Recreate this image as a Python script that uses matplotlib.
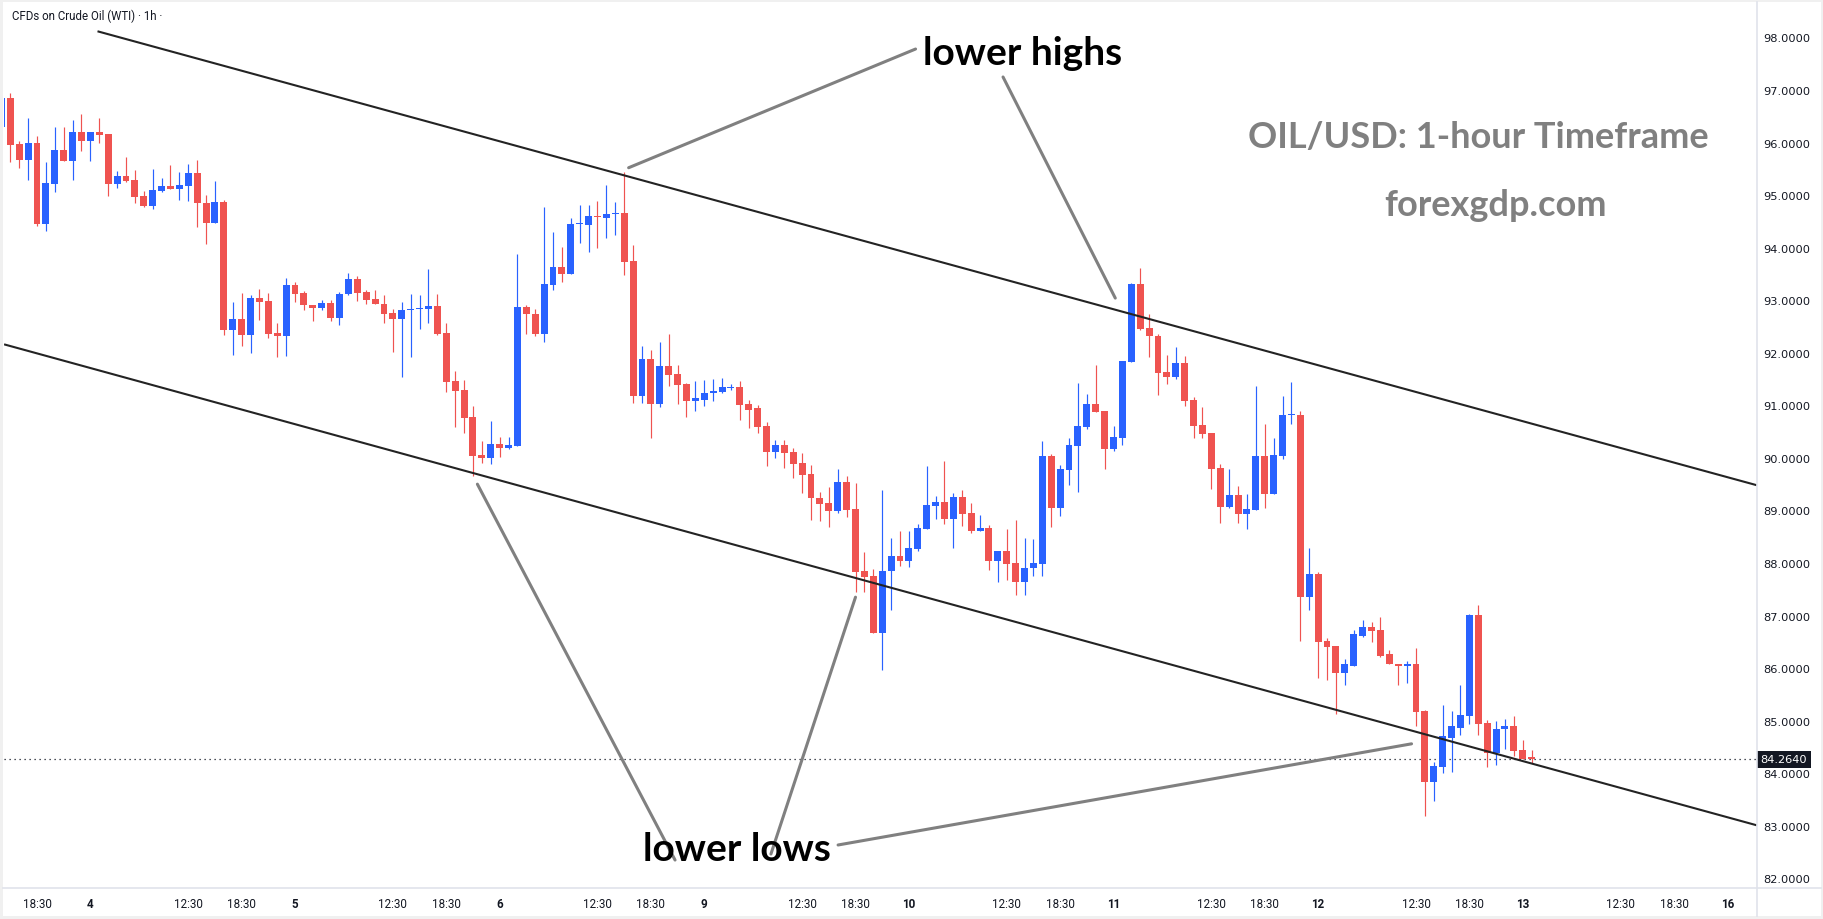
import numpy as np
import matplotlib
matplotlib.use("Agg")
from matplotlib import pyplot as plt
from matplotlib.lines import Line2D
from matplotlib.patches import Rectangle
from matplotlib.ticker import FixedLocator, FormatStrFormatter


# hourly bars of CFDs on Crude Oil (WTI), first bar opens 3rd 14:30
opens = [
	96.30, 96.85, 95.97, 95.67, 95.99, 94.45, 95.22, 95.86, 95.64, 96.20,
	96.02, 96.20, 96.16, 95.22, 95.36, 95.29, 94.98, 94.80, 95.08, 95.17,
	95.12, 95.18, 95.42, 94.85, 94.47, 94.87, 92.44, 92.64, 92.34, 93.04,
	92.98, 92.38, 92.31, 93.29, 93.14, 92.91, 92.86, 92.95, 92.67, 93.12,
	93.40, 93.15, 93.02, 92.93, 92.76, 92.65, 92.81, 92.83, 92.84, 92.89,
	92.38, 91.46, 91.29, 90.77, 90.05, 90.00, 90.26, 90.19, 90.23, 92.87,
	92.74, 92.36, 93.28, 93.64, 93.50, 94.45, 94.43, 94.60, 94.57, 94.64,
	94.66, 93.74, 91.18, 91.88, 91.03, 91.75, 91.59, 91.40, 91.09, 91.11,
	91.23, 91.26, 91.33, 91.35, 91.03, 90.94, 90.61, 90.12, 90.25, 90.12,
	89.91, 89.70, 89.24, 89.15, 88.98, 89.55, 89.03, 87.85, 87.76, 86.67,
	87.85, 88.14, 88.04, 88.27, 88.65, 89.09, 89.17, 88.84, 89.26, 88.96,
	88.60, 88.67, 88.04, 88.23, 88.00, 87.64, 87.91, 87.99, 90.04, 89.05,
	89.76, 90.23, 90.59, 91.03, 90.89, 90.16, 90.38, 91.83, 93.31, 92.48,
	92.32, 91.64, 91.54, 91.81, 91.11, 90.63, 90.48, 89.81, 89.07, 89.30,
	88.94, 89.01, 90.04, 89.32, 90.04, 90.82, 90.82, 87.36, 87.79, 86.52,
	86.43, 85.91, 86.05, 86.62, 86.79, 86.73, 86.26, 86.08, 86.05, 86.08,
	85.19, 83.84, 84.12, 84.68, 84.87, 85.09, 87.02, 84.96, 84.39, 84.84,
	84.90, 84.45, 84.30,
]
highs = [
	96.95, 96.95, 96.03, 96.47, 96.12, 95.63, 96.29, 96.29, 96.43, 96.54,
	96.20, 96.47, 96.16, 95.46, 95.72, 95.48, 95.08, 95.50, 95.33, 95.57,
	95.44, 95.59, 95.67, 95.00, 95.27, 94.91, 92.96, 93.13, 93.10, 93.21,
	93.13, 92.56, 93.42, 93.35, 93.17, 92.91, 93.00, 93.00, 93.16, 93.52,
	93.46, 93.19, 93.19, 93.10, 92.83, 92.97, 93.12, 93.10, 93.59, 93.12,
	92.56, 91.65, 91.49, 90.99, 90.32, 90.70, 90.40, 90.40, 93.88, 92.91,
	92.83, 94.77, 94.30, 94.01, 94.56, 94.81, 94.81, 94.89, 95.19, 94.87,
	95.44, 94.05, 92.13, 92.05, 92.20, 92.36, 91.77, 91.42, 91.46, 91.49,
	91.50, 91.52, 91.41, 91.46, 91.11, 91.00, 90.69, 90.34, 90.34, 90.19,
	90.10, 89.87, 89.36, 89.45, 89.78, 89.66, 89.53, 88.20, 87.89, 89.39,
	88.48, 88.60, 88.60, 88.75, 89.85, 89.28, 89.94, 89.34, 89.38, 89.15,
	88.92, 88.73, 88.23, 88.65, 88.82, 88.48, 88.46, 90.33, 90.08, 89.86,
	90.37, 91.43, 91.22, 91.77, 90.89, 90.61, 91.85, 93.33, 93.62, 92.74,
	92.36, 91.96, 92.10, 91.94, 91.16, 90.96, 90.48, 89.89, 89.79, 89.47,
	89.32, 91.37, 90.65, 90.38, 91.18, 91.45, 90.89, 88.28, 87.83, 86.58,
	86.43, 86.18, 86.73, 86.92, 86.88, 86.98, 86.35, 86.08, 86.14, 86.39,
	85.21, 84.22, 85.29, 85.19, 85.68, 87.03, 87.21, 85.02, 85.00, 85.04,
	85.08, 84.64, 84.45,
]
lows = [
	96.20, 95.62, 95.51, 95.29, 94.42, 94.32, 95.05, 95.64, 95.29, 95.84,
	95.65, 95.99, 94.99, 95.14, 95.24, 94.84, 94.78, 94.74, 95.05, 95.12,
	94.91, 94.89, 94.40, 94.06, 94.47, 92.34, 91.96, 92.12, 92.00, 92.63,
	92.29, 91.92, 91.94, 92.97, 92.82, 92.61, 92.82, 92.61, 92.52, 93.09,
	92.99, 92.93, 92.92, 92.57, 92.02, 91.53, 91.92, 92.46, 92.57, 92.34,
	91.26, 90.59, 90.48, 89.66, 89.91, 89.89, 90.02, 90.17, 90.23, 92.36,
	92.31, 92.21, 93.20, 93.35, 93.50, 94.09, 93.92, 93.99, 94.18, 94.24,
	93.48, 91.05, 91.05, 90.38, 90.97, 91.37, 91.03, 90.77, 90.90, 90.99,
	91.09, 91.24, 91.30, 90.73, 90.57, 90.48, 89.85, 90.00, 89.81, 89.62,
	89.34, 88.81, 88.79, 88.69, 88.96, 88.88, 87.45, 87.44, 86.67, 85.97,
	87.11, 87.95, 87.93, 88.23, 88.65, 88.84, 88.75, 88.29, 88.71, 88.58,
	88.60, 87.87, 87.63, 87.68, 87.40, 87.40, 87.76, 87.76, 88.69, 88.90,
	89.49, 89.36, 90.54, 90.88, 89.79, 90.14, 90.25, 91.83, 92.44, 91.91,
	91.20, 91.41, 91.51, 90.99, 90.37, 90.38, 89.41, 88.77, 89.05, 88.77,
	88.65, 89.01, 89.05, 89.32, 89.97, 90.65, 86.52, 87.11, 85.82, 85.78,
	85.13, 85.68, 86.05, 86.60, 86.50, 86.22, 86.07, 85.68, 85.72, 84.90,
	83.19, 83.48, 84.01, 84.03, 84.73, 84.94, 84.73, 84.12, 84.16, 84.47,
	84.32, 84.28, 84.20,
]
closes = [
	96.85, 95.96, 95.67, 95.99, 94.45, 95.23, 95.86, 95.64, 96.20, 96.02,
	96.20, 96.15, 95.22, 95.36, 95.27, 94.97, 94.80, 95.10, 95.17, 95.12,
	95.19, 95.42, 94.84, 94.47, 94.87, 92.44, 92.64, 92.34, 93.04, 92.97,
	92.36, 92.31, 93.29, 93.12, 92.90, 92.86, 92.95, 92.67, 93.12, 93.40,
	93.14, 93.01, 92.92, 92.74, 92.65, 92.81, 92.83, 92.85, 92.89, 92.36,
	91.45, 91.28, 90.75, 90.04, 90.00, 90.26, 90.19, 90.25, 92.87, 92.73,
	92.36, 93.30, 93.64, 93.50, 94.45, 94.46, 94.60, 94.58, 94.64, 94.66,
	93.73, 91.18, 91.88, 91.03, 91.75, 91.58, 91.39, 91.09, 91.13, 91.23,
	91.27, 91.35, 91.35, 91.01, 90.92, 90.59, 90.12, 90.25, 90.10, 89.89,
	89.68, 89.23, 89.13, 88.98, 89.55, 89.01, 87.83, 87.74, 86.67, 87.85,
	88.14, 88.04, 88.29, 88.67, 89.11, 89.17, 88.84, 89.26, 88.94, 88.60,
	88.67, 88.04, 88.23, 87.99, 87.64, 87.91, 88.00, 90.04, 89.05, 89.78,
	90.25, 90.61, 91.03, 90.88, 90.16, 90.40, 91.85, 93.31, 92.46, 92.31,
	91.62, 91.54, 91.81, 91.09, 90.61, 90.46, 89.79, 89.07, 89.30, 88.94,
	89.03, 90.04, 89.32, 90.06, 90.82, 90.84, 87.36, 87.79, 86.50, 86.41,
	85.91, 86.07, 86.64, 86.79, 86.71, 86.24, 86.07, 86.05, 86.08, 85.17,
	83.84, 84.14, 84.70, 84.89, 85.11, 87.02, 84.94, 84.39, 84.85, 84.90,
	84.43, 84.28, 84.264,
]

# trading sessions: 23 hourly bars a day (01:30 .. 23:30)
session_days = [3, 4, 5, 6, 9, 10, 11, 12, 13, 16]
first_bar_hour = 14
hour_labels = [12, 18]

# channel lines: (bar, price) at each end
upper_channel = [(10.8, 98.116), (197.3, 89.48)]
lower_channel = [(0.3, 92.16), (197.3, 83.01)]

price_ticks = list(range(82, 99))

UP = "#2962FF"
DOWN = "#EF5350"
INK = "#131722"
SEP = "#E0E3EB"
GREY = "#808080"

W, H = 1824, 920
fig = plt.figure(figsize=(W / 100, H / 100), dpi=100, facecolor="#F0F0F0")


def fx(px):
	return px / W


def fy(py):
	return 1 - py / H


fig.patches.append(Rectangle((fx(3), fy(917)), fx(1818), 914 / H,
	transform=fig.transFigure, facecolor="white", edgecolor="none", zorder=-5))

ax = fig.add_axes([fx(4), fy(889), fx(1753), 885 / H])
ax.set_facecolor("white")
for s in ax.spines.values():
	s.set_visible(False)

fig.lines.append(Line2D([fx(1757), fx(1757)], [fy(917), fy(3)], transform=fig.transFigure, color=SEP, lw=1.2))
fig.lines.append(Line2D([fx(3), fx(1821)], [fy(889), fy(889)], transform=fig.transFigure, color=SEP, lw=1.2))

# candles
o = np.array(opens)
h = np.array(highs)
l = np.array(lows)
c = np.array(closes)
x = np.arange(len(o))
cols = [UP if cc >= oo else DOWN for oo, cc in zip(o, c)]
ax.vlines(x, l, h, colors=cols, lw=0.85, zorder=3)
body = np.maximum(np.abs(c - o), 0.018)
ax.bar(x, body, bottom=np.minimum(o, c), width=0.78, color=cols, linewidth=0, zorder=4)

# channel
for (x0, y0), (x1, y1) in [upper_channel, lower_channel]:
	ax.plot([x0, x1], [y0, y1], color="#232323", lw=1.5, zorder=5, solid_capstyle="butt")

# last price
ax.axhline(c[-1], color=INK, lw=0.9, linestyle=(0, (1, 3)), zorder=2)
ax.annotate(f"{c[-1]:.4f}", xy=(1, c[-1]), xycoords=("axes fraction", "data"),
	xytext=(2.5, 0), textcoords="offset points", ha="left", va="center",
	color="white", fontsize=8.2, family="DejaVu Sans",
	bbox=dict(boxstyle="square,pad=0.3", fc=INK, ec="none"),
	zorder=10, annotation_clip=False)

# price axis
ax.yaxis.tick_right()
ax.yaxis.set_major_locator(FixedLocator(price_ticks))
ax.yaxis.set_major_formatter(FormatStrFormatter("%.4f"))
ax.tick_params(axis="y", length=0, pad=4.5, labelsize=8.2, labelcolor=INK)
for t in ax.get_yticklabels():
	t.set_family("DejaVu Sans")

# time axis
slots = []
for d in session_days:
	for hr in range(1, 24):
		if d == session_days[0] and hr < first_bar_hour:
			continue
		slots.append((d, hr))
tick_pos, tick_lab, tick_bold = [], [], []
for k, (d, hr) in enumerate(slots):
	if hr == 1:
		tick_pos.append(k)
		tick_lab.append(str(d))
		tick_bold.append(True)
	elif hr in hour_labels:
		tick_pos.append(k)
		tick_lab.append(f"{hr}:30")
		tick_bold.append(False)
ax.set_xticks(tick_pos)
ax.set_xticklabels(tick_lab)
ax.tick_params(axis="x", length=0, pad=6.5, labelsize=8.4, labelcolor=INK)
for t, b in zip(ax.get_xticklabels(), tick_bold):
	t.set_family("Roboto")
	if b:
		t.set_fontweight("bold")

ax.set_xlim(-0.71 + 1, 196.33 + 1)
ax.set_ylim(81.817, 98.654)

ax.text(0.0046, 0.9864, "CFDs on Crude Oil (WTI) · 1h ·", transform=ax.transAxes,
	ha="left", va="center", fontsize=8.3, family="Roboto", color=INK)

# annotations
ann = dict(arrowstyle="-", color=GREY, lw=2.2, shrinkA=0, shrinkB=0)
ax.annotate("", xy=(70.5, 95.52), xycoords="data", xytext=(0.5200, 0.948), textcoords="axes fraction", arrowprops=ann, zorder=6)
ax.annotate("", xy=(125.2, 93.04), xycoords="data", xytext=(0.5699, 0.9164), textcoords="axes fraction", arrowprops=ann, zorder=6)
ax.annotate("", xy=(53.5, 89.50), xycoords="data", xytext=(0.3828, 0.0316), textcoords="axes fraction", arrowprops=ann, zorder=6)
ax.annotate("", xy=(96.0, 87.35), xycoords="data", xytext=(0.4375, 0.0384), textcoords="axes fraction", arrowprops=ann, zorder=6)
ax.annotate("", xy=(158.5, 84.56), xycoords="data", xytext=(0.4758, 0.0486), textcoords="axes fraction", arrowprops=ann, zorder=6)

big = dict(family="Lato", fontweight="bold", transform=ax.transAxes, ha="center", va="baseline", zorder=7)
ax.text(0.5813, 0.9311, "lower highs", fontsize=28, color="black", **big)
ax.text(0.4181, 0.0316, "lower lows", fontsize=28, color="black", **big)
ax.text(0.8409, 0.8373, "OIL/USD: 1-hour Timeframe", fontsize=26, color=GREY, **big)
ax.text(0.8511, 0.7605, "forexgdp.com", fontsize=26, color=GREY, **big)

fig.savefig("out.png", dpi=100, facecolor=fig.get_facecolor())
